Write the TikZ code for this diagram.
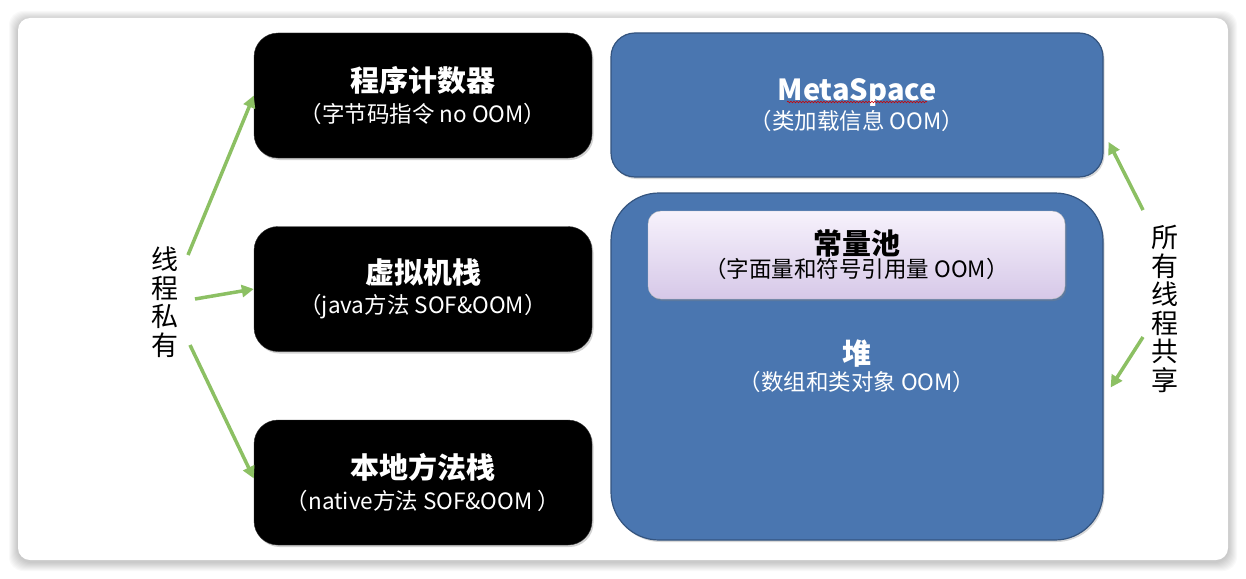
\documentclass[tikz,border=0pt]{standalone}
\usepackage{fontspec}
\setmainfont{Noto Sans CJK SC}
\usetikzlibrary{arrows.meta,shadows,decorations.pathmorphing}
\definecolor{bluebox}{HTML}{4A76B0}
\definecolor{blueedge}{HTML}{34547F}
\definecolor{arrowgreen}{HTML}{8CC063}
\definecolor{poolA}{HTML}{F7F2FC}
\definecolor{poolB}{HTML}{D6C8E8}
\newcommand{\ttlfont}{\fontsize{29}{32}\selectfont\bfseries}
\newcommand{\subfont}{\fontsize{22.5}{26}\selectfont}
\begin{document}
\begin{tikzpicture}[x=1pt,y=-1pt,
  blackbox/.style={fill=black, draw=black!80, rounded corners=24pt, minimum width=338pt, minimum height=125pt,
    text=white, align=center, inner sep=0pt,
    drop shadow={opacity=0.35, shadow xshift=1.5pt, shadow yshift=-2pt}},
  bluebox/.style={fill=bluebox, draw=blueedge, line width=1.2pt, rounded corners=24pt, minimum width=492pt,
    text=white, align=center, inner sep=0pt,
    drop shadow={opacity=0.3, shadow xshift=1.5pt, shadow yshift=-2pt}},
  poolbox/.style={top color=poolA, bottom color=poolB, draw=black!25, rounded corners=13pt,
    minimum width=417pt, minimum height=88pt, text=black, align=center, inner sep=0pt,
    drop shadow={opacity=0.35, shadow xshift=1.5pt, shadow yshift=-2pt}},
  vlabel/.style={align=center, inner sep=0pt, font=\fontsize{27}{28.5}\selectfont},
  conn/.style={draw=arrowgreen, line width=3.5pt, -{Triangle[length=12pt,width=12pt]}}
]
% background and card
\fill[white] (0,0) rectangle (1246,578);
\foreach \i in {1,...,9}{
  \fill[black, opacity=0.025, rounded corners=14pt] (18-\i,18-\i+2) rectangle (1228+\i,560+\i+2);
}
\fill[white, rounded corners=12pt] (18,18) rectangle (1228,560);

% thread-private boxes
\node[blackbox] (pc) at (423,95.5) {{\ttlfont 程序计数器}\\[7pt]{\subfont （字节码指令 no OOM）}};
\node[blackbox] (vms) at (423,289) {{\ttlfont 虚拟机栈}\\[7pt]{\subfont （java方法 SOF\&OOM）}};
\node[blackbox] (nms) at (423,482.5) {{\ttlfont 本地方法栈}\\[7pt]{\subfont （native方法 SOF\&OOM ）}};

% shared boxes
\node[bluebox, minimum height=144pt] (ms) at (857,105) {{\ttlfont MetaSpace}\\[2pt]{\subfont （类加载信息 OOM）}};
\node[bluebox, minimum height=347pt, rounded corners=48pt] (heap) at (857,366.5) {{\ttlfont 堆}\\[3pt]{\subfont （数组和类对象 OOM）}};
\node[poolbox] (cp) at (856.5,255) {{\ttlfont 常量池}\\[0pt]{\subfont （字面量和符号引用量 OOM）}};

% spell-check wavy underline
\draw[red!80!black, line width=0.6pt, decorate, decoration={snake, amplitude=0.8pt, segment length=3pt}] (787,102) -- (927,102);

% vertical labels
\node[vlabel] (priv) at (165,302) {线\\程\\私\\有};
\node[vlabel] (shared) at (1165,309) {所\\有\\线\\程\\共\\享};

% connectors
\coordinate (p1) at (188,255);
\coordinate (p2) at (195,299);
\coordinate (p3) at (190,345);
\coordinate (s1) at (1143,210);
\coordinate (s2) at (1143,337);
\draw[conn] (p1) -- (pc.west);
\draw[conn] (p2) -- (vms.west);
\draw[conn] (p3) -- ([yshift=4pt]nms.west);
\draw[conn] (s1) -- ([shift={(5pt,-37pt)}]ms.east);
\draw[conn] (s2) -- ([shift={(7pt,-21pt)}]heap.east);
\end{tikzpicture}
\end{document}
